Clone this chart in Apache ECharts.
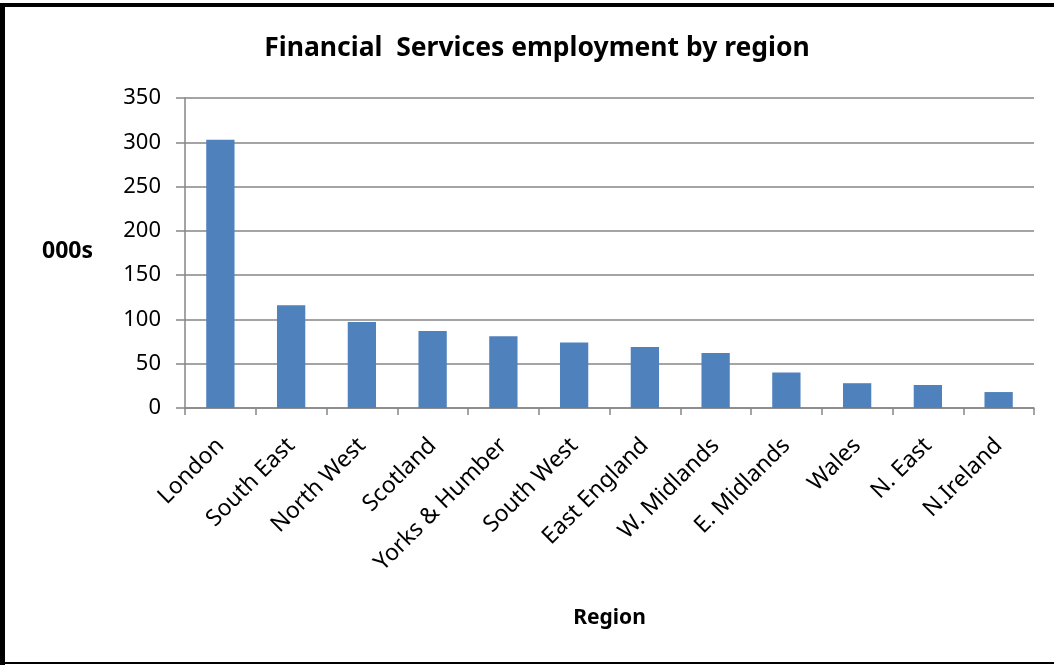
<!DOCTYPE html>
<html>
<head>
    <meta charset="utf-8">
    <title>Financial Services employment by region</title>
    <script src="https://cdn.jsdelivr.net/npm/echarts@6/dist/echarts.min.js"></script>
    <style>
        html, body, #main {
            width: 100%;
            height: 100%;
            margin: 0;
            background: #fff;
        }
    </style>
</head>
<body>
    <div id="main"></div>
    <script type="text/javascript">
        // data (thousands of jobs)
        var regions = ['London', 'South East', 'North West', 'Scotland', 'Yorks & Humber', 'South West',
                       'East England', 'W. Midlands', 'E. Midlands', 'Wales', 'N. East', 'N.Ireland'];
        var employment = [303, 116, 97, 87, 81, 74, 69, 62, 40, 28, 26, 18];
        var yTicks = [0, 50, 100, 150, 200, 250, 300, 350];

        var font = 'Noto Sans';
        var myChart = echarts.init(document.getElementById('main'));

        var option = {
            backgroundColor: '#fff',
            animation: false,
            title: {
                text: 'Financial  Services employment by region',
                left: 532,
                textAlign: 'center',
                top: 30,
                textStyle: { fontFamily: font, fontWeight: 'bold', fontSize: 26.5, color: '#000' }
            },
            grid: { left: 185, top: 98, width: 849, height: 310, containLabel: false },
            xAxis: {
                type: 'category',
                data: regions,
                name: 'Region',
                nameLocation: 'middle',
                nameGap: 200,
                nameTextStyle: { fontFamily: font, fontWeight: 'bold', fontSize: 21, color: '#000' },
                axisLine: { lineStyle: { color: '#868686', width: 1.5 } },
                axisTick: { show: true, length: 7, alignWithLabel: false, lineStyle: { color: '#868686', width: 1.5 } },
                axisLabel: { rotate: 45, margin: 34, fontFamily: font, fontSize: 23, color: '#000' }
            },
            yAxis: {
                type: 'value',
                min: yTicks[0],
                max: yTicks[yTicks.length - 1],
                interval: 50,
                axisLine: { show: true, lineStyle: { color: '#868686', width: 1.5 } },
                axisTick: { show: true, length: 9, lineStyle: { color: '#868686', width: 1.5 } },
                axisLabel: { margin: 24, fontFamily: font, fontSize: 22, color: '#000' },
                splitLine: { lineStyle: { color: '#868686', width: 1.5 } }
            },
            graphic: [
                { type: 'text', left: 42, top: 240,
                  style: { text: '000s', font: 'bold 23px "Noto Sans"', fill: '#000' } },
                { type: 'rect', shape: { x: 0, y: 3, width: 1054, height: 4 }, style: { fill: '#000' } },
                { type: 'rect', shape: { x: 0, y: 3, width: 5, height: 662 }, style: { fill: '#000' } },
                { type: 'rect', shape: { x: 0, y: 662, width: 1054, height: 2 }, style: { fill: '#000' } }
            ],
            series: [{
                type: 'bar',
                data: employment,
                barCategoryGap: '60%',
                itemStyle: { color: '#4F81BD' }
            }]
        };
        myChart.setOption(option);
        window.onresize = myChart.resize;
    </script>
</body>
</html>
